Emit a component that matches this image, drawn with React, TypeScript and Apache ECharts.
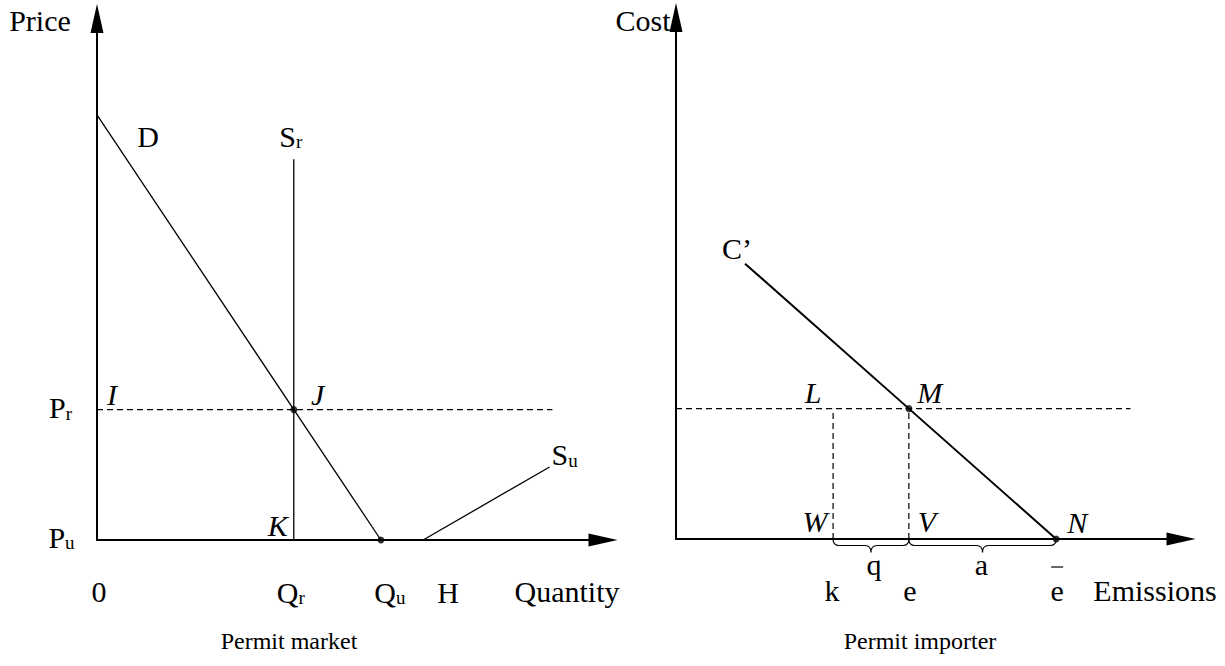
import React, { useEffect, useRef } from 'react';
import * as echarts from 'echarts';

// ---------- Left panel: Permit market ----------
const xMaxL = 18;
const yMaxL = 20;
const qR = 7; // Q_r
const qU = 10.1; // Q_u
const qH = 11.6; // H
const pR = 5; // P_r
const pU = 0; // P_u
const demandD = [[0, 16.3], [10.1, 0]];
const supplySr = [[7, 0], [7, 14.6]];
const supplySu = [[11.6, 0], [16.1, 2.8]];
const priceLineL = [[0, 5], [16.2, 5]];
const dotsL = [[7, 5], [10.1, 0]];

// ---------- Right panel: Permit importer ----------
const xMaxR = 18;
const yMaxR = 20;
const kVal = 5.6; // k
const eVal = 8.3; // e
const eBar = 13.55; // e-bar
const costLevel = 5;
const costC = [[2.46, 10.56], [8.3, 5], [13.55, 0]];
const costLineR = [[0, 5], [16.2, 5]];
const dashK = [[5.6, 0], [5.6, 5]];
const dashE = [[8.3, 0], [8.3, 5]];
const dotsR = [[8.3, 5], [13.55, 0]];

const FONT = '"Liberation Serif", "Times New Roman", serif';

export default function App() {
  const ref = useRef<HTMLDivElement>(null);
  useEffect(() => {
    if (!ref.current) return;
    const chart = echarts.init(ref.current, null, { renderer: 'svg' });
    const axisLine = {
      show: true,
      onZero: false,
      symbol: ['none', 'triangle'],
      symbolSize: [13, 29],
      lineStyle: { color: '#000', width: 2 },
    };
    const axis = (gi: number, max: number) => ({
      type: 'value',
      gridIndex: gi,
      min: 0,
      max,
      axisLine,
      axisTick: { show: false },
      axisLabel: { show: false },
      splitLine: { show: false },
    });
    const line = (gi: number, data: number[][], width: number, dashed = false) => ({
      type: 'line',
      xAxisIndex: gi,
      yAxisIndex: gi,
      data,
      symbol: 'none',
      silent: true,
      lineStyle: { color: '#000', width, type: dashed ? [6, 4] : 'solid' },
      z: 3,
    });
    const dots = (gi: number, data: number[][]) => ({
      type: 'scatter',
      xAxisIndex: gi,
      yAxisIndex: gi,
      data,
      symbol: 'circle',
      symbolSize: 7,
      itemStyle: { color: '#000' },
      silent: true,
      z: 5,
    });

    chart.setOption({
      animation: false,
      backgroundColor: '#fff',
      grid: [
        { left: 97, top: 18.5, width: 506, height: 521.5 },
        { left: 676, top: 17.5, width: 505, height: 521.5 },
      ],
      xAxis: [axis(0, xMaxL), axis(1, xMaxR)],
      yAxis: [axis(0, yMaxL), axis(1, yMaxR)],
      series: [
        line(0, demandD, 1.3),
        line(0, supplySr, 1.3),
        line(0, supplySu, 1.3),
        line(0, priceLineL, 1.2, true),
        dots(0, dotsL),
        line(1, costC, 2),
        line(1, costLineR, 1.2, true),
        line(1, dashK, 1.2, true),
        line(1, dashE, 1.2, true),
        dots(1, dotsR),
      ],
    });

    const P0 = (x: number, y: number) => chart.convertToPixel({ gridIndex: 0 }, [x, y]) as number[];
    const P1 = (x: number, y: number) => chart.convertToPixel({ gridIndex: 1 }, [x, y]) as number[];

    const txt = (p: number[], dx: number, dy: number, text: string, extra: any = {}) => ({
      type: 'text',
      x: p[0] + dx,
      y: p[1] + dy,
      silent: true,
      z: 10,
      style: {
        text,
        fontSize: 30,
        fontFamily: FONT,
        fill: '#000',
        align: 'center',
        verticalAlign: 'middle',
        ...extra,
      },
    });
    const sub = (p: number[], dx: number, dy: number, main: string, s: string, italic = false) =>
      txt(p, dx, dy, `{m|${main}}{s|${s}}`, {
        rich: {
          m: { fontSize: 30, fontFamily: FONT, lineHeight: 30, verticalAlign: 'bottom', fontStyle: italic ? 'italic' : 'normal' },
          s: { fontSize: 19, fontFamily: FONT, lineHeight: 12, verticalAlign: 'bottom' },
        },
      });
    const it = { fontStyle: 'italic' };

    // braces
    const braceD = (a: number[], b: number[]) => {
      const x1 = a[0], x2 = b[0], y = a[1] + 0.5;
      const m = (x1 + x2) / 2;
      return `M${x1} ${y} Q${x1} ${y + 6} ${x1 + 6} ${y + 6} L${m - 6} ${y + 6} Q${m} ${y + 6} ${m} ${y + 13} Q${m} ${y + 6} ${m + 6} ${y + 6} L${x2 - 6} ${y + 6} Q${x2} ${y + 6} ${x2} ${y}`;
    };
    const pk = P1(kVal, 0), pe = P1(eVal, 0), pn = P1(eBar, 0);
    echarts.graphic.registerShape('braceQ', echarts.graphic.extendPath(braceD(pk, pe), {}));
    echarts.graphic.registerShape('braceA', echarts.graphic.extendPath(braceD(pe, pn), {}));

    const graphic: any[] = [
      // left panel labels
      txt(P0(0, yMaxL), -57, 1.5, 'Price'),
      txt(P0(demandD[0][0], demandD[0][1]), 51, 22, 'D'),
      sub(P0(supplySr[1][0], supplySr[1][1]), -3, -23, 'S', 'r'),
      txt(P0(0, pR), 15, -15, 'I', it),
      txt(P0(qR, pR), 24, -15, 'J', it),
      txt(P0(qR, 0), -16, -15, 'K', it),
      sub(P0(0, pR), -36.5, -2, 'P', 'r'),
      sub(P0(0, pU), -35.5, -3, 'P', 'u'),
      txt(P0(0, 0), 2, 51, '0'),
      sub(P0(qR, 0), -3, 52, 'Q', 'r'),
      sub(P0(qU, 0), 9, 52, 'Q', 'u'),
      txt(P0(qH, 0), 25, 52, 'H'),
      txt(P0(xMaxL, 0), -36, 51, 'Quantity'),
      sub(P0(supplySu[1][0], supplySu[1][1]), 15, -12, 'S', 'u'),
      // right panel labels
      txt(P1(0, yMaxR), -33, 2.5, 'Cost'),
      txt(P1(costC[0][0], costC[0][1]), -8, -15, 'C\u2019'),
      txt(P1(kVal, costLevel), -20, -16, 'L', it),
      txt(P1(eVal, costLevel), 21, -16, 'M', it),
      txt(P1(kVal, 0), -18, -18, 'W', it),
      txt(P1(eVal, 0), 18, -18, 'V', it),
      txt(P1(eBar, 0), 21, -17, 'N', it),
      txt(P1((kVal + eVal) / 2, 0), 3, 25, 'q'),
      txt(P1((eVal + eBar) / 2, 0), -1, 25, 'a'),
      txt(P1(kVal, 0), -1, 51, 'k'),
      txt(P1(eVal, 0), 1, 51, 'e'),
      txt(P1(eBar, 0), 1, 51, 'e'),
      {
        type: 'line',
        silent: true,
        shape: { x1: pn[0] - 5, y1: pn[1] + 28, x2: pn[0] + 7, y2: pn[1] + 28 },
        style: { stroke: '#000', lineWidth: 1.2 },
      },
      txt(P1(xMaxR, 0), -26, 51, 'Emissions'),
      { type: 'braceQ', silent: true, style: { stroke: '#000', fill: 'none', lineWidth: 1.2 } },
      { type: 'braceA', silent: true, style: { stroke: '#000', fill: 'none', lineWidth: 1.2 } },
      // captions
      { type: 'text', x: 289, y: 641, silent: true, style: { text: 'Permit market', fontSize: 24, fontFamily: FONT, fill: '#000', align: 'center', verticalAlign: 'middle' } },
      { type: 'text', x: 920, y: 641, silent: true, style: { text: 'Permit importer', fontSize: 24, fontFamily: FONT, fill: '#000', align: 'center', verticalAlign: 'middle' } },
    ];
    chart.setOption({ graphic });

    return () => chart.dispose();
  }, []);
  return (
    <div
      ref={ref}
      style={{ position: 'absolute', left: 0, top: 0, width: 1225, height: 666, background: '#fff' }}
    />
  );
}
